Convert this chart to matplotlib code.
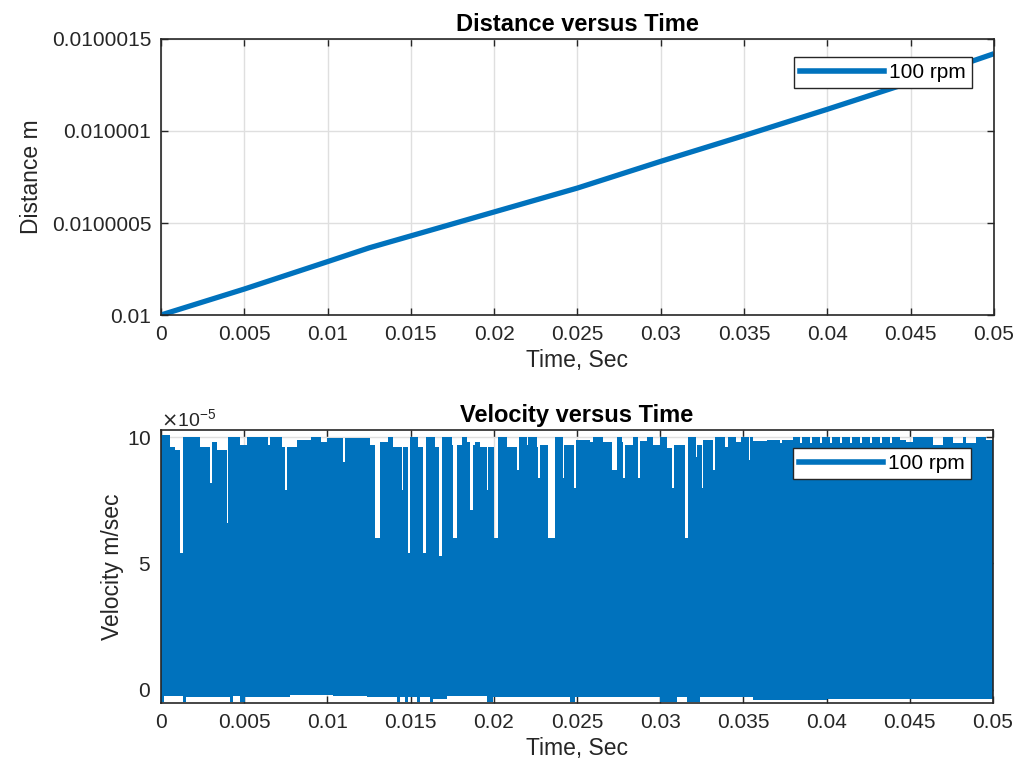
import numpy as np
import matplotlib
matplotlib.use("Agg")
import matplotlib.pyplot as plt
from matplotlib.lines import Line2D

# distance, time in ms, offset above 0.01 m in 1e-6 m
dist_t_ms = [0, 5, 10, 12.5, 15, 20, 25, 30, 35, 40, 45, 50]
dist_off = [0, 0.141, 0.29, 0.365, 0.43, 0.56, 0.69, 0.835, 0.975, 1.118, 1.265, 1.42]

# velocity envelope (segment start in ms, value in 1e-5 m/s)
vel_top_t = [0.0, 0.54, 0.84, 1.14, 1.30, 2.34, 2.95, 3.05, 3.35, 3.95, 4.05, 4.75, 5.15,
             6.45, 6.55, 7.25, 7.45, 7.55, 8.16, 9.0, 9.6, 10.0, 10.96, 11.06, 12.56, 12.86,
             13.16, 13.66, 13.96, 14.47, 14.56, 14.86, 14.96, 15.46, 15.76, 15.91, 16.47,
             16.73, 16.87, 17.47, 17.57, 17.81, 18.07, 18.37, 18.57, 18.77, 18.87, 19.18,
             19.58, 19.68, 20.02, 20.28, 20.78, 21.38, 21.50, 21.98, 22.08, 22.58, 22.68,
             22.78, 23.28, 23.68, 24.14, 24.24, 24.82, 24.94, 25.78, 25.99, 26.59, 27.09,
             27.39, 27.69, 27.79, 27.89, 28.39, 28.69, 28.79, 29.19, 29.59, 29.99, 30.39,
             30.69, 30.83, 31.49, 31.69, 32.15, 32.19, 32.50, 32.60, 33.20, 33.30, 33.89,
             34.09, 34.59, 34.89, 35.35, 35.43, 35.59, 36.40, 37.2, 37.35, 38.0, 38.4,
             38.55, 39.0, 39.15, 39.6, 39.75, 40.2, 40.35, 40.8, 40.95, 41.4, 41.55, 42.0,
             42.15, 42.6, 42.75, 43.2, 43.35, 43.8, 43.95, 44.4, 44.8, 45.2, 46.4, 47.0,
             47.6, 48.2, 48.4, 49.0, 49.6]
vel_top = [10.1, 9.6, 9.5, 5.4, 10.0, 9.6, 8.2, 9.8, 9.5, 6.6, 10.0, 9.7, 10.0,
           9.7, 10.0, 9.6, 7.9, 9.6, 9.9, 10.0, 9.8, 9.95, 9.0, 9.95, 9.7, 6.0,
           9.8, 10.0, 9.6, 7.9, 9.6, 5.4, 10.0, 9.6, 5.4, 10.0, 9.6,
           5.3, 10.0, 9.7, 6.0, 9.7, 10.0, 9.8, 7.1, 9.7, 9.8, 9.6,
           7.9, 9.6, 6.0, 10.0, 9.6, 8.7, 10.0, 9.7, 10.0, 9.6, 8.4,
           9.7, 6.0, 10.0, 8.4, 9.7, 8.0, 9.9, 9.8, 10.0, 9.8, 8.7,
           10.0, 9.8, 8.4, 9.7, 10.0, 8.4, 9.85, 10.0, 9.7, 10.0, 9.55,
           8.0, 9.7, 6.0, 10.0, 9.2, 9.7, 8.0, 9.9, 8.7, 10.0, 9.6,
           10.0, 9.8, 10.0, 9.1, 10.0, 9.85, 9.9, 9.75, 9.9, 10.0, 9.75,
           10.0, 9.75, 10.0, 9.75, 10.0, 9.75, 10.0, 9.75, 10.0, 9.75, 10.0, 9.75,
           10.0, 9.75, 10.0, 9.75, 10.0, 9.75, 10.0, 9.9, 9.8, 10.0, 9.7, 10.0,
           9.75, 10.0, 9.75, 10.0, 9.9]
vel_bot_t = [0.0, 0.18, 1.32, 1.5, 4.15, 4.33, 4.75, 5.05, 7.75, 10.34, 12.38, 14.18,
             14.36, 14.66, 14.84, 15.39, 15.57, 16.17, 16.35, 17.19, 19.59, 19.95, 24.58,
             24.88, 29.99, 31.01, 31.61, 32.39, 35.58, 40.03]
vel_bot = [-0.5, -0.25, -0.5, -0.3, -0.5, -0.25, -0.5, -0.3, -0.2, -0.25, -0.3, -0.5,
           -0.3, -0.5, -0.3, -0.5, -0.3, -0.5, -0.35, -0.25, -0.5, -0.3, -0.5,
           -0.28, -0.5, -0.3, -0.5, -0.3, -0.4, -0.38]

x_ticks = np.arange(0, 0.0501, 0.005)
blue = "#0072BD"
axc = "#262626"

plt.rcParams['font.family'] = ['Liberation Sans', 'DejaVu Sans']

fig = plt.figure(figsize=(10.25, 7.78), dpi=100)
ax1 = fig.add_axes([0.157, 0.5951, 0.8127, 0.3548])
ax2 = fig.add_axes([0.157, 0.0964, 0.8117, 0.3509])


def style(ax):
    ax.set_xlim(0, 0.05)
    ax.set_xticks(x_ticks)
    ax.xaxis.set_major_formatter(plt.FuncFormatter(lambda v, p: '%g' % round(v, 6)))
    ax.grid(True, color="#dfdfdf", lw=1.0)
    ax.set_axisbelow(True)
    ax.tick_params(direction='in', length=5, width=1.0, colors=axc, labelsize=15,
                   top=True, right=True, pad=7)
    for s in ax.spines.values():
        s.set_color(axc)
        s.set_linewidth(1.2)
    ax.set_xlabel("Time, Sec", fontsize=16.5, color=axc, labelpad=4)
    leg = ax.legend(handles=[Line2D([], [], color=blue, lw=4)], labels=["100 rpm"],
                    loc='upper right', bbox_to_anchor=(0.9735, 0.935), fontsize=15,
                    frameon=True, fancybox=False, framealpha=1, handlelength=4.0,
                    borderpad=0.3, handletextpad=0.25, borderaxespad=0)
    leg.get_frame().set_edgecolor(axc)
    leg.get_frame().set_linewidth(1.0)


# top: distance
t_d = np.array(dist_t_ms) / 1000.0
d = 0.01 + np.array(dist_off) * 1e-6
ax1.plot(t_d, d, color=blue, lw=3.8, solid_capstyle='butt')
ax1.set_ylim(0.01, 0.0100015)
ax1.set_yticks([0.01, 0.0100005, 0.010001, 0.0100015])
ax1.yaxis.set_major_formatter(plt.FuncFormatter(lambda v, p: '%.7g' % v))
style(ax1)
ax1.set_ylabel("Distance m", fontsize=16.5, color=axc, labelpad=6)
ax1.set_title("Distance versus Time", fontsize=17, fontweight='bold', pad=6)

# bottom: velocity band
tt = np.append(np.array(vel_top_t), 50.0) / 1000.0
vt = np.append(np.array(vel_top), vel_top[-1]) * 1e-5
tb = np.append(np.array(vel_bot_t), 50.0) / 1000.0
vb = np.append(np.array(vel_bot), vel_bot[-1]) * 1e-5
ax2.fill_between(tt, 2e-5, vt, step='post', color=blue, lw=0)
ax2.fill_between(tb, vb, 3e-5, step='post', color=blue, lw=0)
ax2.set_ylim(-0.52e-5, 10.28e-5)
ax2.set_yticks([0, 5e-5, 10e-5])
ax2.ticklabel_format(axis='y', style='sci', scilimits=(-5, -5), useMathText=True)
ax2.yaxis.get_offset_text().set_fontsize(14)
ax2.yaxis.get_offset_text().set_color(axc)
style(ax2)
ax2.set_ylabel("Velocity m/sec", fontsize=16.5, color=axc, labelpad=2)
ax2.set_title("Velocity versus Time", fontsize=17, fontweight='bold', pad=6)

fig.savefig("out.png", dpi=100, facecolor='white')
